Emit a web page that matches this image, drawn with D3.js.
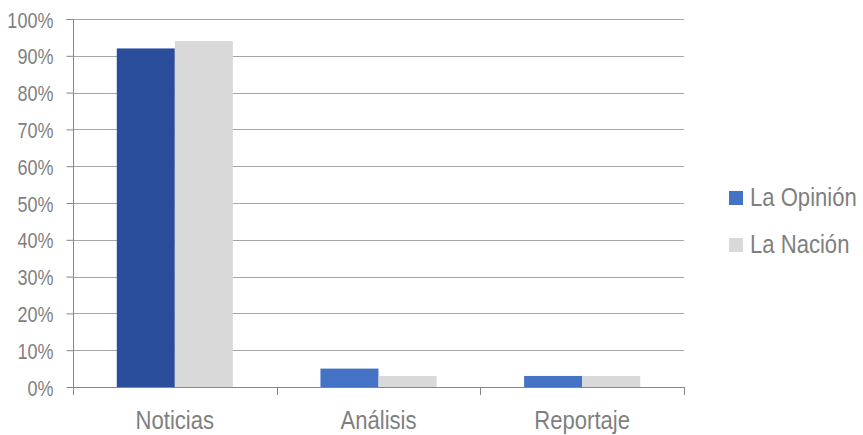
<!DOCTYPE html>
<html><head><meta charset="utf-8">
<script src="https://cdn.jsdelivr.net/npm/d3@7"></script>
<style>
body{margin:0;background:#fff;}
svg text{font-family:"Liberation Sans",Arial,sans-serif;fill:#7f7f7f;}
</style></head>
<body><svg id="c" width="863" height="435"></svg>
<script>
const categories = ["Noticias", "Análisis", "Reportaje"];
const seriesNames = ["La Opinión", "La Nación"];
const laOpinion = [0.92, 0.05, 0.03];
const laNacion = [0.94, 0.03, 0.03];
const yTicks = [0, 0.1, 0.2, 0.3, 0.4, 0.5, 0.6, 0.7, 0.8, 0.9, 1.0];

const seriesValues = [laOpinion, laNacion];
const seriesColors = ["#4472C4", "#D9D9D9"];
const firstBarColor = "#2A4D9B";
const NARROW = 0.82;
const NARROW_L = 0.85;

const svg = d3.select("#c");
const L = 73, R = 684, T = 19, B = 387;
const pad = 0.43;
const x0 = d3.scaleBand().domain(categories).range([L, R]).paddingInner(pad).paddingOuter(pad / 2);
const x1 = d3.scaleBand().domain(seriesNames).range([0, x0.bandwidth()]);
const y = d3.scaleLinear().domain([0, 1]).range([B, T]);

// gridlines
svg.append("g").selectAll("line").data(yTicks.filter(d => d > 0)).join("line")
  .attr("x1", L).attr("x2", R).attr("y1", d => Math.round(y(d)) + 0.5).attr("y2", d => Math.round(y(d)) + 0.5)
  .attr("stroke", "#a6a6a6").attr("stroke-width", 1);

// y axis
const yAxis = d3.axisLeft(y).tickValues(yTicks).tickFormat(d3.format(".0%")).tickSize(7).tickPadding(0);
const gy = svg.append("g").attr("transform", `translate(${L + 0.5},0)`).call(yAxis);
gy.select(".domain").attr("stroke", "#868686").attr("d", `M-7,${T}.5H0V${B}.5`);
gy.selectAll(".tick line").attr("stroke", "#868686");
gy.selectAll(".tick text")
  .attr("x", null).attr("dy", null)
  .attr("transform", `translate(-20,8) scale(${NARROW},1)`)
  .attr("font-size", 22).attr("fill", "#7f7f7f")
  .attr("font-family", '"Liberation Sans",Arial,sans-serif');

// bars
const gBars = svg.append("g");
categories.forEach((c, ci) => {
  seriesNames.forEach((s, si) => {
    const v = seriesValues[si][ci];
    gBars.append("rect")
      .attr("x", x0(c) + x1(s))
      .attr("y", y(v))
      .attr("width", x1.bandwidth())
      .attr("height", y(0) - y(v))
      .attr("fill", (ci === 0 && si === 0) ? firstBarColor : seriesColors[si]);
  });
});

// x axis
const step = x0.step();
const bounds = [L].concat(categories.map(c => x0(c) + x0.bandwidth() + step * pad / 2));
svg.append("line").attr("x1", L).attr("x2", R).attr("y1", B + 0.5).attr("y2", B + 0.5).attr("stroke", "#868686");
svg.append("g").selectAll("line").data(bounds).join("line")
  .attr("x1", d => Math.round(d) + 0.5).attr("x2", d => Math.round(d) + 0.5)
  .attr("y1", B).attr("y2", B + 8).attr("stroke", "#868686");
svg.append("g").selectAll("text").data(categories).join("text")
  .attr("transform", d => `translate(${x0(d) + x0.bandwidth() / 2},429) scale(${NARROW_L},1)`)
  .attr("text-anchor", "middle").attr("font-size", 26).text(d => d);

// legend
const lg = svg.append("g");
seriesNames.forEach((s, i) => {
  const yy = 191 + i * 47;
  lg.append("rect").attr("x", 729).attr("y", yy).attr("width", 14).attr("height", 14).attr("fill", seriesColors[i]);
  lg.append("text").attr("transform", `translate(750,${yy + 15}) scale(${NARROW_L},1)`)
    .attr("font-size", 26).text(s);
});
</script></body></html>
